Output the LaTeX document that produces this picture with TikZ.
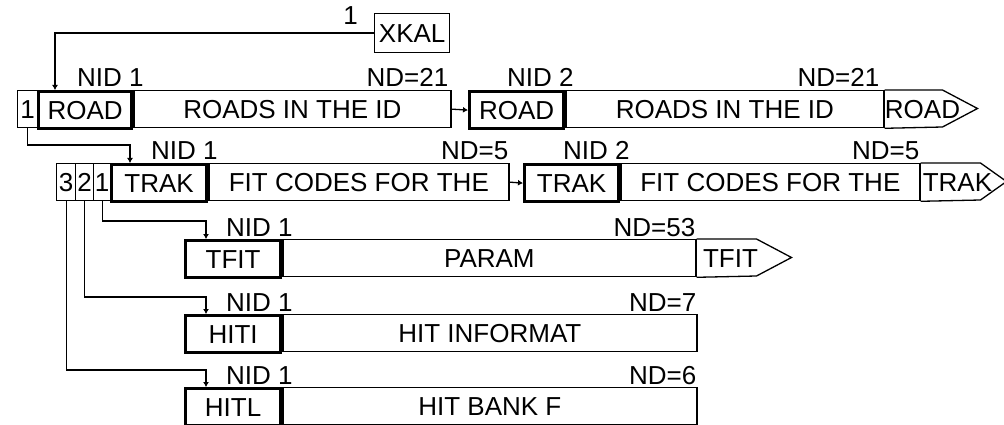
\documentclass[tikz,border=0pt]{standalone}
\usepackage{fontspec}
\setmainfont{Liberation Sans}
\usepackage{tikz}
\usetikzlibrary{arrows.meta,positioning,calc}
\definecolor{cInk}{HTML}{000000}
\newcommand\bkfont{\fontsize{26pt}{26pt}\selectfont}
\tikzset{
  hdr/.style={draw=cInk,line width=3.2pt,anchor=north west,minimum width=#1,minimum height=37pt,inner sep=0pt,font=\bkfont,text=cInk},
  body/.style={draw=cInk,line width=1.3pt,anchor=north west,minimum width=#1,minimum height=37pt,inner sep=0pt,font=\bkfont,text=cInk},
  tag/.style={font=\bkfont,text=cInk,inner sep=0pt},
  tail/.style={draw=cInk,line width=1.3pt,line join=miter},
  link/.style={-{Latex[length=5pt,width=6pt]},line width=1.3pt,color=cInk},
}

\begin{document}
\begin{tikzpicture}[x=1pt,y=-1pt]
  \useasboundingbox (0,0) rectangle (1004,425);
  % calibration bank on top
  \node[body=75pt,minimum height=39pt] (xkal) at (374,13) {XKAL};
  \node[tag,anchor=base east] (xkaln) at ([shift={(-16,-9)}]xkal.west) {1};

  % ROAD banks, NID 1 and NID 2
  \node[body=20pt] (i1) at (17,90) {1};
  \node[hdr=93pt] (road1) at (37,90) {ROAD};
  \node[body=317pt] (road1m) at (road1.north east) {ROADS IN THE ID};
  \node[hdr=94pt] (road2) at (468,90) {ROAD};
  \node[body=318pt] (road2m) at (road2.north east) {ROADS IN THE ID};
  \draw[tail] (road2m.north east) -- ++(58,0) -- ++(35,18.5) -- ++(-35,18.5) -- (road2m.south east);
  \node[tag] (road2t) at ($(road2m.east)+(38,0)$) {ROAD};
  \node[tag,anchor=base west] (road1id) at ([shift={(40,-3)}]road1.north west) {NID 1};
  \node[tag,anchor=base east] (road1nd) at ([shift={(-3,-3)}]road1m.north east) {ND=21};
  \node[tag,anchor=base west] (road2id) at ([shift={(39,-3)}]road2.north west) {NID 2};
  \node[tag,anchor=base east] (road2nd) at ([shift={(-5,-3)}]road2m.north east) {ND=21};

  % TRAK banks with three down links
  \node[body=19pt] (j3) at (56,163) {3};
  \node[body=18pt] (j2) at (75,163) {2};
  \node[body=17pt] (j1) at (93,163) {1};
  \node[hdr=95pt] (trak1) at (110,163) {TRAK};
  \node[body=300pt] (trak1m) at (trak1.north east) {FIT CODES FOR THE};
  \node[hdr=94pt] (trak2) at (523,163) {TRAK};
  \node[body=299pt] (trak2m) at (trak2.north east) {FIT CODES FOR THE};
  \draw[tail] (trak2m.north east) -- ++(60,0) -- ++(26,18.5) -- ++(-26,18.5) -- (trak2m.south east);
  \node[tag] (trak2t) at ($(trak2m.east)+(37,0)$) {TRAK};
  \node[tag,anchor=base west] (trak1id) at ([shift={(41,-3)}]trak1.north west) {NID 1};
  \node[tag,anchor=base east] (trak1nd) at ([shift={(-1,-3)}]trak1m.north east) {ND=5};
  \node[tag,anchor=base west] (trak2id) at ([shift={(40,-3)}]trak2.north west) {NID 2};
  \node[tag,anchor=base east] (trak2nd) at ([shift={(-1,-3)}]trak2m.north east) {ND=5};

  % TFIT, HITI, HITL
  \node[hdr=95pt] (tfit) at (184,239) {TFIT};
  \node[body=413pt] (tfitm) at (tfit.north east) {PARAM};
  \draw[tail] (tfitm.north east) -- ++(60,0) -- ++(35,18.5) -- ++(-35,18.5) -- (tfitm.south east);
  \node[tag] (tfitt) at ($(tfitm.east)+(34,0)$) {TFIT};
  \node[tag,anchor=base west] (tfitid) at ([shift={(42,-3)}]tfit.north west) {NID 1};
  \node[tag,anchor=base east] (tfitnd) at ([shift={(-1,-3)}]tfitm.north east) {ND=53};

  \node[hdr=95pt] (hiti) at (184,314) {HITI};
  \node[body=414pt] (hitim) at (hiti.north east) {HIT INFORMAT};
  \node[tag,anchor=base west] (hitiid) at ([shift={(42,-3)}]hiti.north west) {NID 1};
  \node[tag,anchor=base east] (hitind) at ([shift={(-1,-3)}]hitim.north east) {ND=7};

  \node[hdr=95pt] (hitl) at (184,387) {HITL};
  \node[body=414pt] (hitlm) at (hitl.north east) {HIT BANK F};
  \node[tag,anchor=base west] (hitlid) at ([shift={(42,-3)}]hitl.north west) {NID 1};
  \node[tag,anchor=base east] (hitlnd) at ([shift={(-1,-3)}]hitlm.north east) {ND=6};

  % links
  \draw[link] (xkal.west) -| ($(road1.north west)+(18,0)$);
  \draw[link] (road1m.east) -- (road2.west);
  \draw[link] (trak1m.east) -- (trak2.west);
  \draw[link] (i1.south) |- ($(trak1.north west)+(20,-18)$) -- ($(trak1.north west)+(20,0)$);
  \draw[link] (j1.south) |- ($(tfit.north west)+(22,-18)$) -- ($(tfit.north west)+(22,0)$);
  \draw[link] (j2.south) |- ($(hiti.north west)+(22,-17)$) -- ($(hiti.north west)+(22,0)$);
  \draw[link] (j3.south) |- ($(hitl.north west)+(22,-17)$) -- ($(hitl.north west)+(22,0)$);
\end{tikzpicture}
\end{document}
